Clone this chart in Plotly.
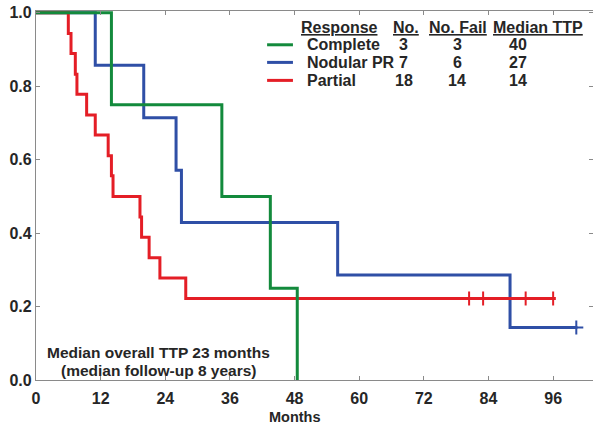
import plotly.graph_objects as go

# ---- data ----
green_t = [0, 14, 34.5, 43.5, 48.5]
green_s = [1.0, 0.75, 0.50, 0.25, 0.0]

blue_t = [0, 11, 20, 26, 27, 56, 88, 100.5]
blue_s = [1.0, 0.857, 0.714, 0.571, 0.429, 0.286, 0.143, 0.143]

red_t = [0, 6, 6.5, 7.3, 7.6, 9.4, 11, 13.4, 14, 14.3, 19.3, 19.6, 21, 23, 27.8, 96.5]
red_s = [1.0, 0.944, 0.889, 0.833, 0.778, 0.722, 0.667, 0.611, 0.556, 0.500,
         0.444, 0.389, 0.333, 0.278, 0.222, 0.222]

red_cens_t = [80.4, 83, 90.9, 96]
red_cens_s = [0.222, 0.222, 0.222, 0.222]
blue_cens_t = [100.3]
blue_cens_s = [0.143]

responses = ["Complete", "Nodular PR", "Partial"]
n_pts = [3, 7, 18]
n_fail = [3, 6, 14]
median_ttp = [40, 27, 14]
headers = ["Response", "No.", "No. Fail", "Median TTP"]

x_ticks = [0, 12, 24, 36, 48, 60, 72, 84, 96]
y_ticks = [0.0, 0.2, 0.4, 0.6, 0.8, 1.0]

GREEN = "#138a3c"
BLUE = "#2f4fa6"
RED = "#e41e26"
TXT = "#262626"
AX = "#8a8a8a"
FONT = "Liberation Sans, Arial, sans-serif"

fig = go.Figure()
fig.add_trace(go.Scatter(x=blue_t, y=blue_s, mode="lines", line=dict(color=BLUE, width=3, shape="hv"),
                         showlegend=False, hoverinfo="skip"))
fig.add_trace(go.Scatter(x=red_t, y=red_s, mode="lines", line=dict(color=RED, width=3, shape="hv"),
                         showlegend=False, hoverinfo="skip"))
fig.add_trace(go.Scatter(x=red_cens_t, y=red_cens_s, mode="markers",
                         marker=dict(symbol="line-ns-open", size=10, color=RED,
                                     line=dict(color=RED, width=2)),
                         showlegend=False, hoverinfo="skip"))
fig.add_trace(go.Scatter(x=blue_cens_t, y=blue_cens_s, mode="markers",
                         marker=dict(symbol="cross-thin-open", size=10, color=BLUE,
                                     line=dict(color=BLUE, width=2)),
                         showlegend=False, hoverinfo="skip"))
fig.add_trace(go.Scatter(x=green_t, y=green_s, mode="lines", line=dict(color=GREEN, width=3, shape="hv"),
                         showlegend=False, hoverinfo="skip", yaxis="y2"))

YR = [0, 1.005]
XR = [0, 103.4]

ann = []
# legend table
hdr_y = 0.959
row_y = [0.913, 0.865, 0.816]
col_no = 68.3
col_fail = 78.2
col_med = 89.5
ann.append(dict(x=48.8, y=hdr_y, text="<u>Response</u>", xanchor="left"))
ann.append(dict(x=68.7, y=hdr_y, text="<u>No.</u>", xanchor="center"))
ann.append(dict(x=78.4, y=hdr_y, text="<u>No. Fail</u>", xanchor="center"))
ann.append(dict(x=93.1, y=hdr_y, text="<u>Median TTP</u>", xanchor="center"))
colors = [GREEN, BLUE, RED]
shapes = []
for i, r in enumerate(responses):
    ann.append(dict(x=49.9, y=row_y[i], text=r, xanchor="left"))
    ann.append(dict(x=col_no, y=row_y[i], text=str(n_pts[i]), xanchor="center"))
    ann.append(dict(x=col_fail, y=row_y[i], text=str(n_fail[i]), xanchor="center"))
    ann.append(dict(x=col_med, y=row_y[i], text=str(median_ttp[i]), xanchor="center"))
    shapes.append(dict(type="line", xref="x", yref="y", x0=42.9, x1=47.7, y0=row_y[i], y1=row_y[i],
                       line=dict(color=colors[i], width=3)))
for a in ann:
    a.update(xref="x", yref="y", yanchor="middle", showarrow=False,
             font=dict(family=FONT, size=16, color=TXT))
    a["text"] = "<b>" + a["text"] + "</b>"

ann.append(dict(x=22.8, y=0.074, xref="x", yref="y", text="<b>Median overall TTP 23 months</b>",
                showarrow=False, xanchor="center", yanchor="middle",
                font=dict(family=FONT, size=15.5, color=TXT)))
ann.append(dict(x=22.8, y=0.025, xref="x", yref="y", text="<b>(median follow-up 8 years)</b>",
                showarrow=False, xanchor="center", yanchor="middle",
                font=dict(family=FONT, size=15.5, color=TXT)))
ann.append(dict(x=48, y=-0.1, xref="x", yref="paper", text="<b>Months</b>",
                showarrow=False, xanchor="center", yanchor="middle",
                font=dict(family=FONT, size=14.5, color=TXT)))

fig.update_layout(
    width=602, height=433,
    margin=dict(l=36, r=9, t=11, b=53, autoexpand=False),
    paper_bgcolor="white", plot_bgcolor="white",
    annotations=ann, shapes=shapes,
    xaxis=dict(range=XR, tickvals=x_ticks, ticktext=[f"<b>{v}</b>" for v in x_ticks],
               automargin=False, ticklabeloverflow="allow", ticklabelstandoff=4,
               showgrid=False, zeroline=False, showline=True, linecolor=AX, linewidth=1.2,
               mirror="ticks", ticks="inside", ticklen=4, tickcolor=AX, tickwidth=1,
               tickfont=dict(family=FONT, size=16, color=TXT)),
    yaxis=dict(range=YR, tickvals=y_ticks, ticktext=[f"<b>{v:.1f}</b>" for v in y_ticks],
               automargin=False, ticklabeloverflow="allow",
               showgrid=False, zeroline=False, showline=True, linecolor=AX, linewidth=1.2,
               ticks="inside", ticklen=4, tickcolor=AX, tickwidth=1,
               tickfont=dict(family=FONT, size=16, color=TXT)),
    yaxis2=dict(range=YR, overlaying="y", side="right", tickvals=y_ticks, showticklabels=False,
                automargin=False,
                showgrid=False, zeroline=False, showline=False,
                ticks="inside", ticklen=4, tickcolor=AX, tickwidth=1),
)

# remove the browser's default 8px body margin so the figure fills the window exactly
fig.write_html("out.html", config={"displayModeBar": False},
               post_script="document.body.style.margin='0px';")
